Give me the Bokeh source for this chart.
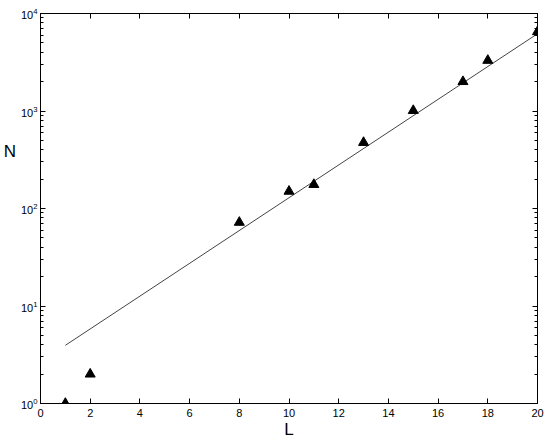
from bokeh.plotting import figure
from bokeh.models import LinearAxis, LogAxis, FixedTicker, LogTicker, Range1d, CustomJSTickFormatter
from bokeh.embed import file_html
from bokeh.resources import INLINE

# data
L_vals = [1, 2, 8, 10, 11, 13, 15, 17, 18, 20]
N_vals = [1.0, 2.0, 72, 150, 176, 475, 1010, 2000, 3300, 6500]
fit_L = [1, 20]
fit_N = [3.95, 6200]
x_ticks = [0, 2, 4, 6, 8, 10, 12, 14, 16, 18, 20]

FONT = "Liberation Sans"

p = figure(frame_width=497, frame_height=390, y_axis_type="log",
           x_range=Range1d(0, 20), y_range=Range1d(1, 1e4),
           output_backend="svg", toolbar_location=None,
           min_border_left=0, min_border_right=8, min_border_top=13, min_border_bottom=0,
           x_axis_label="L", y_axis_label="N\n\n\n\n\n")
p.grid.visible = False
p.outline_line_color = "black"
p.background_fill_color = "white"
p.border_fill_color = "white"

p.line(fit_L, fit_N, line_color="#444444", line_width=1)
p.scatter(L_vals, N_vals, marker="triangle", size=10, color="black")

def style(ax):
    ax.axis_line_color = "black"
    ax.major_tick_in = 5
    ax.major_tick_out = 0
    ax.minor_tick_in = 3
    ax.minor_tick_out = 0
    ax.major_tick_line_color = "black"
    ax.minor_tick_line_color = "black"
    ax.major_label_text_font = FONT
    ax.major_label_text_font_size = "11px"
    ax.major_label_text_color = "black"
    ax.axis_label_text_font = FONT
    ax.axis_label_text_font_size = "17px"
    ax.axis_label_text_font_style = "normal"
    ax.axis_label_text_color = "black"

xa = p.xaxis[0]
xa.ticker = FixedTicker(ticks=x_ticks)
style(xa)
xa.major_label_standoff = 5
xa.axis_label_standoff = 0

ya = p.yaxis[0]
ya.ticker = LogTicker(num_minor_ticks=10)
style(ya)
ya.major_label_standoff = 3
ya.axis_label_standoff = 2
ya.axis_label_orientation = "horizontal"

blank = "return ''"
top = LinearAxis(ticker=FixedTicker(ticks=x_ticks), formatter=CustomJSTickFormatter(code=blank))
style(top)
top.major_label_standoff = 0
p.add_layout(top, "above")
right = LogAxis(ticker=LogTicker(num_minor_ticks=10), formatter=CustomJSTickFormatter(code=blank))
style(right)
right.major_label_standoff = 0
p.add_layout(right, "right")

open("out.html", "w").write(file_html(p, INLINE))
